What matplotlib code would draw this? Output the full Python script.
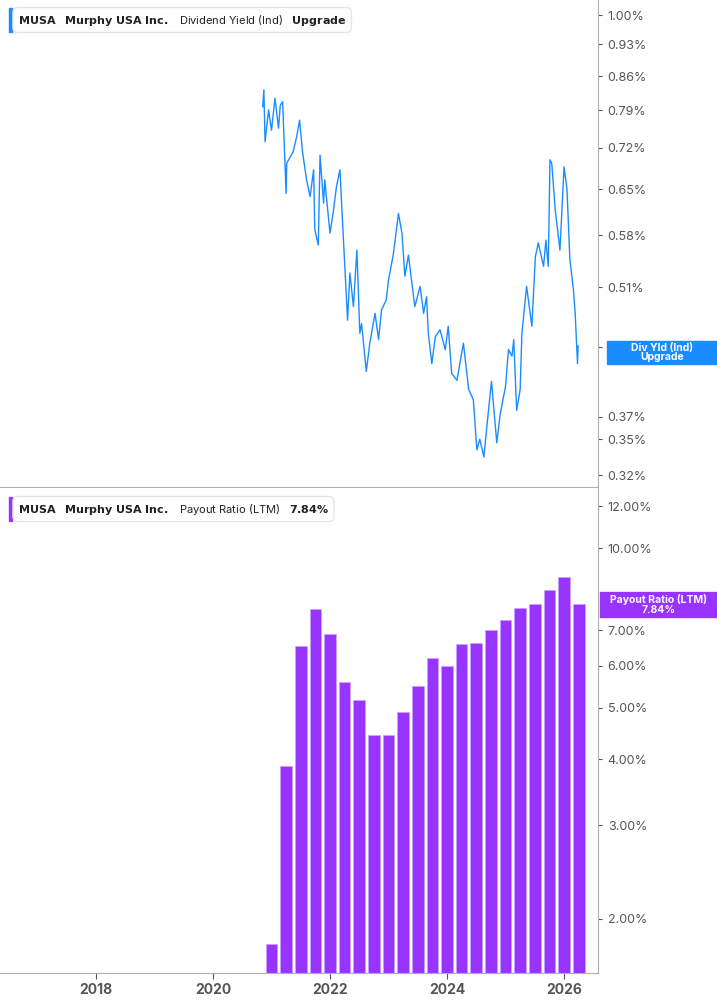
import numpy as np
import matplotlib.pyplot as plt
from matplotlib.ticker import FixedLocator, NullLocator

plt.rcParams['font.family'] = ['Inter', 'DejaVu Sans']

# dividend yield (%)
yld_t = [2020.85, 2020.87, 2020.89, 2020.95, 2021.00, 2021.06, 2021.12, 2021.15, 2021.19, 2021.25,
         2021.26, 2021.37, 2021.43, 2021.48, 2021.53, 2021.60, 2021.66, 2021.72, 2021.74, 2021.80,
         2021.83, 2021.89, 2021.91, 2022.00, 2022.06, 2022.11, 2022.17, 2022.23, 2022.30, 2022.34,
         2022.40, 2022.46, 2022.51, 2022.54, 2022.62, 2022.68, 2022.77, 2022.83, 2022.88, 2022.96,
         2023.00, 2023.08, 2023.17, 2023.23, 2023.28, 2023.34, 2023.45, 2023.54, 2023.60, 2023.65,
         2023.68, 2023.74, 2023.80, 2023.88, 2023.97, 2024.02, 2024.08, 2024.17, 2024.28, 2024.37,
         2024.45, 2024.51, 2024.56, 2024.63, 2024.68, 2024.76, 2024.85, 2024.91, 2025.00, 2025.05,
         2025.11, 2025.14, 2025.19, 2025.25, 2025.28, 2025.36, 2025.45, 2025.51, 2025.56, 2025.65,
         2025.69, 2025.73, 2025.76, 2025.79, 2025.85, 2025.93, 2026.00, 2026.05, 2026.10, 2026.16,
         2026.19, 2026.23, 2026.24]
yld_v = [0.797, 0.831, 0.731, 0.791, 0.752, 0.814, 0.756, 0.800, 0.807, 0.643,
         0.693, 0.713, 0.740, 0.771, 0.713, 0.665, 0.638, 0.682, 0.588, 0.566,
         0.707, 0.628, 0.665, 0.583, 0.617, 0.654, 0.682, 0.573, 0.470, 0.528,
         0.486, 0.559, 0.455, 0.466, 0.414, 0.444, 0.478, 0.448, 0.482, 0.494,
         0.519, 0.552, 0.612, 0.583, 0.524, 0.552, 0.486, 0.511, 0.478, 0.498,
         0.455, 0.422, 0.451, 0.459, 0.437, 0.463, 0.412, 0.405, 0.444, 0.396,
         0.386, 0.341, 0.350, 0.335, 0.361, 0.404, 0.347, 0.373, 0.399, 0.437,
         0.430, 0.448, 0.376, 0.396, 0.455, 0.511, 0.463, 0.550, 0.569, 0.537,
         0.573, 0.537, 0.699, 0.693, 0.617, 0.559, 0.687, 0.650, 0.546, 0.507,
         0.478, 0.422, 0.441]

# quarterly payout ratio (%)
pay_t = [2021.0 + 0.25 * i for i in range(22)]
pay_v = [1.79, 3.89, 6.54, 7.68, 6.88, 5.60, 5.18, 4.45, 4.45, 4.91, 5.49,
         6.20, 6.00, 6.60, 6.62, 7.02, 7.33, 7.73, 7.86, 8.36, 8.82, 7.84]

yld_ticks = [0.32, 0.35, 0.37, 0.44, 0.51, 0.58, 0.65, 0.72, 0.79, 0.86, 0.93, 1.00]
pay_ticks = [2, 3, 4, 5, 6, 7, 10, 12]
year_ticks = [2018, 2020, 2022, 2024, 2026]

blue = '#1a8cff'
purple = '#9933ff'
grey = '#b0b0b0'
tcol = '#555555'

fig = plt.figure(figsize=(7.17, 10.05), dpi=100)
ax1 = fig.add_axes([0, 0.5154, 0.834, 0.4846])
ax2 = fig.add_axes([0, 0.0318, 0.834, 0.4826])

for ax in (ax1, ax2):
    ax.set_xlim(2016.36, 2026.58)
    ax.set_yscale('log')
    ax.yaxis.tick_right()
    for s in ('left', 'top'):
        ax.spines[s].set_visible(False)
    ax.spines['right'].set_color(grey)
    ax.spines['bottom'].set_color(grey)
    ax.yaxis.set_minor_locator(NullLocator())
    ax.tick_params(axis='y', colors=tcol, labelsize=9, length=3, pad=4)

ax1.plot(yld_t, yld_v, color=blue, lw=1)
ax1.set_ylim(0.311, 1.038)
ax1.yaxis.set_major_locator(FixedLocator(yld_ticks))
ax1.set_yticklabels(['%.2f%%' % v for v in yld_ticks])
ax1.set_xticks([])

ax2.bar(pay_t, pay_v, width=0.2, color=purple, edgecolor='#c9a0ff', linewidth=0.6)
ax2.set_ylim(1.58, 13.0)
ax2.yaxis.set_major_locator(FixedLocator(pay_ticks))
ax2.set_yticklabels(['%.2f%%' % v for v in pay_ticks])
ax2.set_xticks(year_ticks)
ax2.set_xticklabels([str(y) for y in year_ticks], fontweight='bold')
ax2.tick_params(axis='x', colors=tcol, labelsize=10, length=4)


# right-side value tags, box runs to the right edge
def tag(x0, ytop, ybot, text, col):
    fig.patches.append(plt.Rectangle((x0, 1 - ybot / 1005), 1 - x0, (ybot - ytop) / 1005,
                                     color=col, transform=fig.transFigure, figure=fig, zorder=5))
    fig.text((x0 + 1) / 2, 1 - (ytop + ybot) / 2 / 1005, text, ha='center', va='center',
             color='white', fontsize=7.5, fontweight='bold', linespacing=0.95, zorder=6)


tag(607 / 717, 341, 364, 'Div Yld (Ind)\nUpgrade', blue)
tag(600 / 717, 592, 617, 'Payout Ratio (LTM)\n' + '%.2f%%' % pay_v[-1], purple)


# legends at top-left
def legend(y, text, col):
    fig.text(0.025, y, text, ha='left', va='center', fontsize=8, color='#222222',
             bbox=dict(boxstyle='round,pad=0.45', fc='white', ec='#e6e6e6'))
    fig.patches.append(plt.Rectangle((0.013, y - 0.012), 0.004, 0.024, color=col,
                                     transform=fig.transFigure, figure=fig))


legend(1 - 20 / 1005, r'$\bf{MUSA}$   $\bf{Murphy\ USA\ Inc.}$   Dividend Yield (Ind)   $\bf{Upgrade}$', blue)
legend(1 - 509 / 1005, r'$\bf{MUSA}$   $\bf{Murphy\ USA\ Inc.}$   Payout Ratio (LTM)   $\bf{7.84\%}$', purple)

fig.savefig('out.png', dpi=100)
